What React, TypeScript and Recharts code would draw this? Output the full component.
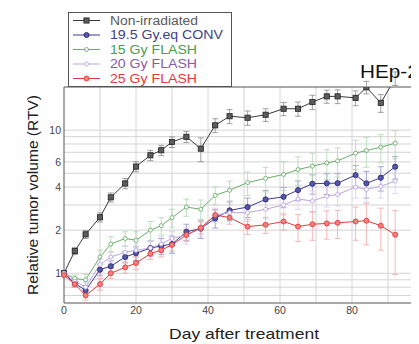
import {
  LineChart,
  Line,
  XAxis,
  YAxis,
  ErrorBar,
  ReferenceLine,
  Legend,
} from "recharts";

const FONT = '"Liberation Sans", Arial, Helvetica, sans-serif';

// days after treatment (x)
const days = [0, 3, 6, 10, 13, 17, 20, 24, 27, 30, 34, 38, 42, 46, 51, 56, 61, 65, 69, 73, 76, 81, 84, 88, 92];

// relative tumor volume per group, with error (+/-)
const nonIrr = [1.0, 1.43, 1.87, 2.46, 3.39, 4.24, 5.56, 6.67, 7.23, 8.26, 8.98, 7.42, 10.8, 12.5, 12.2, 12.8, 14.1, 14.1, 15.7, 17.2, 17.2, 16.8, 19.9, 15.5, 23];
const nonIrrErr = [0, 0.08, 0.12, 0.18, 0.25, 0.35, 0.45, 0.55, 0.6, 0.7, 0.8, 1.4, 1.2, 1.4, 1.4, 1.3, 1.5, 1.6, 1.8, 1.8, 1.9, 2.0, 2.0, 2.2, 2.5];

const conv = [1.0, 0.85, 0.76, 1.06, 1.12, 1.3, 1.38, 1.5, 1.55, 1.6, 1.95, 2.05, 2.42, 2.75, 2.9, 3.28, 3.42, 3.81, 4.22, 4.25, 4.26, 4.85, 4.25, 4.65, 5.55];
const convErr = [0, 0.05, 0.06, 0.1, 0.1, 0.12, 0.15, 0.18, 0.2, 0.22, 0.25, 0.3, 0.35, 0.4, 0.45, 0.5, 0.55, 0.6, 0.65, 0.7, 0.7, 0.8, 0.9, 0.9, 1.0];

const flash15 = [1.0, 0.92, 0.9, 1.3, 1.6, 1.75, 1.7, 2.0, 2.15, 2.45, 2.9, 2.8, 3.5, 3.8, 4.3, 4.6, 4.9, 5.3, 5.6, 5.9, 6.1, 6.9, 7.2, 7.6, 8.1];
const flash15Err = [0, 0.05, 0.08, 0.15, 0.2, 0.2, 0.25, 0.3, 0.3, 0.35, 0.4, 0.45, 0.5, 0.6, 0.8, 0.9, 1.1, 1.2, 1.3, 1.4, 1.4, 1.6, 1.7, 1.7, 1.8];

const flash20 = [1.0, 0.88, 0.8, 1.15, 1.3, 1.4, 1.45, 1.5, 1.6, 1.75, 1.85, 2.05, 2.55, 2.65, 2.65, 2.8, 3.0, 3.3, 3.2, 3.45, 3.55, 4.0, 3.85, 4.05, 4.4];
const flash20Err = [0, 0.05, 0.06, 0.1, 0.12, 0.14, 0.15, 0.18, 0.2, 0.2, 0.25, 0.25, 0.3, 0.35, 0.35, 0.4, 0.45, 0.5, 0.55, 0.55, 0.6, 0.65, 0.7, 0.7, 0.8];

const flash25 = [0.97, 0.84, 0.7, 0.84, 1.0, 1.1, 1.18, 1.37, 1.45, 1.58, 1.85, 2.08, 2.55, 2.45, 2.12, 2.18, 2.3, 2.12, 2.2, 2.23, 2.25, 2.3, 2.33, 2.15, 1.86];
const flash25Err = [0, 0.04, 0.05, 0.08, 0.08, 0.1, 0.12, 0.12, 0.15, 0.15, 0.18, 0.2, 0.25, 0.25, 0.25, 0.28, 0.3, 0.45, 0.5, 0.5, 0.5, 0.6, 0.75, 0.7, 0.88];

const xTicks = [0, 20, 40, 60, 80, 100];
const yTicks = [1, 2, 4, 6, 8, 10];
const xGrid = [10, 20, 30, 40, 50, 60, 70, 80, 90];
const yGrid = [0.7, 0.8, 0.9, 1, 2, 3, 4, 5, 6, 7, 8, 9, 10];

const data = days.map((day, i) => ({
  day,
  nonIrr: nonIrr[i],
  nonIrrErr: nonIrrErr[i],
  conv: conv[i],
  convErr: convErr[i],
  flash15: flash15[i],
  flash15Err: flash15Err[i],
  flash20: flash20[i],
  flash20Err: flash20Err[i],
  flash25: flash25[i],
  flash25Err: flash25Err[i],
}));

type Kind = "square" | "dot" | "open" | "red";

const series: {
  key: string;
  name: string;
  color: string;
  text: string;
  errColor: string;
  kind: Kind;
  fill: string;
}[] = [
  { key: "nonIrr", name: "Non-irradiated", color: "#3a3a3a", text: "#5a5a5a", errColor: "#8a8a8a", kind: "square", fill: "#5c5c5c" },
  { key: "conv", name: "19.5 Gy.eq CONV", color: "#3b3b98", text: "#3e3e8c", errColor: "#9090c4", kind: "dot", fill: "#5656aa" },
  { key: "flash15", name: "15 Gy FLASH", color: "#6aae6a", text: "#4f9a4f", errColor: "#b0d6b0", kind: "open", fill: "#fff" },
  { key: "flash20", name: "20 Gy FLASH", color: "#bba6e2", text: "#8a5aa8", errColor: "#d8ccef", kind: "open", fill: "#fff" },
  { key: "flash25", name: "25 Gy FLASH", color: "#e23a3a", text: "#e03a3a", errColor: "#f2a6a6", kind: "red", fill: "#f28080" },
];

function marker(kind: Kind, color: string, fill: string, cx: number, cy: number, key?: string | number) {
  if (kind === "square")
    return <rect key={key} x={cx - 2.6} y={cy - 2.6} width={5.2} height={5.2} fill={fill} stroke="#222" strokeWidth={0.8} />;
  if (kind === "dot")
    return <circle key={key} cx={cx} cy={cy} r={2.6} fill={fill} stroke="#25256e" strokeWidth={0.8} />;
  if (kind === "red")
    return <circle key={key} cx={cx} cy={cy} r={2.5} fill={fill} stroke={color} strokeWidth={0.9} />;
  return <circle key={key} cx={cx} cy={cy} r={2} fill="#fff" stroke={color} strokeWidth={0.9} />;
}

function LegendBox() {
  const rowY = [8.5, 23, 37.5, 52, 66.5];
  return (
    <svg width={164} height={75} style={{ display: "block" }}>
      <rect x={0.5} y={0.5} width={163} height={74} fill="#fff" stroke="#555" strokeWidth={1} />
      {series.map((s, i) => (
        <g key={s.key}>
          <line x1={5} x2={32} y1={rowY[i]} y2={rowY[i]} stroke={s.color} strokeWidth={1} />
          {marker(s.kind, s.color, s.fill, 18.5, rowY[i])}
          <text
            x={42}
            y={rowY[i] + 4}
            fontSize={12}
            fontFamily={FONT}
            fill={s.text}
            textLength={i === 1 ? 113 : i === 0 ? 88 : 87}
            lengthAdjust="spacingAndGlyphs"
          >
            {s.name}
          </text>
        </g>
      ))}
    </svg>
  );
}

export default function App() {
  return (
    <div style={{ position: "relative", width: 411, height: 336, overflow: "hidden", background: "#fff" }}>
      <LineChart
        width={420}
        height={336}
        data={data}
        margin={{ top: 79, right: 4, bottom: 1, left: 16 }}
      >
        {xGrid.map((v) => (
          <ReferenceLine key={"x" + v} x={v} stroke="#d4d4d4" strokeWidth={1} />
        ))}
        {yGrid.map((v) => (
          <ReferenceLine key={"y" + v} y={v} stroke="#d4d4d4" strokeWidth={1} />
        ))}
        <ReferenceLine y={20} stroke="#555" strokeWidth={1} />
        <XAxis
          dataKey="day"
          type="number"
          domain={[0, 100]}
          ticks={xTicks}
          height={40}
          tickSize={0}
          tickMargin={4}
          stroke="#555"
          tick={{ fontSize: 10.5, fill: "#444", fontFamily: FONT }}
          label={{
            content: (p: any) => {
              const vb = p.viewBox || { x: 56, width: 360 };
              return (
                <text
                  x={vb.x + vb.width / 2}
                  y={331}
                  textAnchor="middle"
                  fontSize={15}
                  fontFamily={FONT}
                  fill="#222"
                  textLength={150}
                  lengthAdjust="spacingAndGlyphs"
                >
                  Day after treatment
                </text>
              );
            },
          }}
        />
        <YAxis
          scale="log"
          type="number"
          domain={[0.62, 20]}
          allowDataOverflow
          ticks={yTicks}
          width={40}
          tickSize={0}
          tickMargin={3}
          stroke="#555"
          tick={{ fontSize: 10.5, fill: "#444", fontFamily: FONT }}
          label={{
            content: (p: any) => {
              const vb = p.viewBox || { y: 79, height: 216 };
              const cy = vb.y + vb.height / 2;
              return (
                <text
                  x={24}
                  y={cy}
                  transform={`rotate(-90, 24, ${cy})`}
                  textAnchor="middle"
                  dominantBaseline="central"
                  fontSize={15}
                  fontFamily={FONT}
                  fill="#222"
                  textLength={200}
                  lengthAdjust="spacingAndGlyphs"
                >
                  Relative tumor volume (RTV)
                </text>
              );
            },
          }}
        />
        {series.map((s) => (
          <Line
            key={s.key}
            dataKey={s.key}
            name={s.name}
            stroke={s.color}
            strokeWidth={1}
            isAnimationActive={false}
            dot={(p: any) => marker(s.kind, s.color, s.fill, p.cx, p.cy, p.index)}
            activeDot={false}
          >
            <ErrorBar dataKey={s.key + "Err"} width={3} stroke={s.errColor} strokeWidth={0.8} direction="y" />
          </Line>
        ))}
        <Legend
          layout="vertical"
          align="center"
          verticalAlign="middle"
          wrapperStyle={{ position: "absolute", left: 60, top: 4, width: 164, height: 75 }}
          content={() => <LegendBox />}
        />
      </LineChart>
      <div
        style={{
          position: "absolute",
          left: 352,
          top: 55,
          fontSize: 18,
          lineHeight: "18px",
          fontFamily: FONT,
          color: "#111",
          transform: "scaleX(1.15)",
          transformOrigin: "left top",
        }}
      >
        HEp-2
      </div>
    </div>
  );
}
